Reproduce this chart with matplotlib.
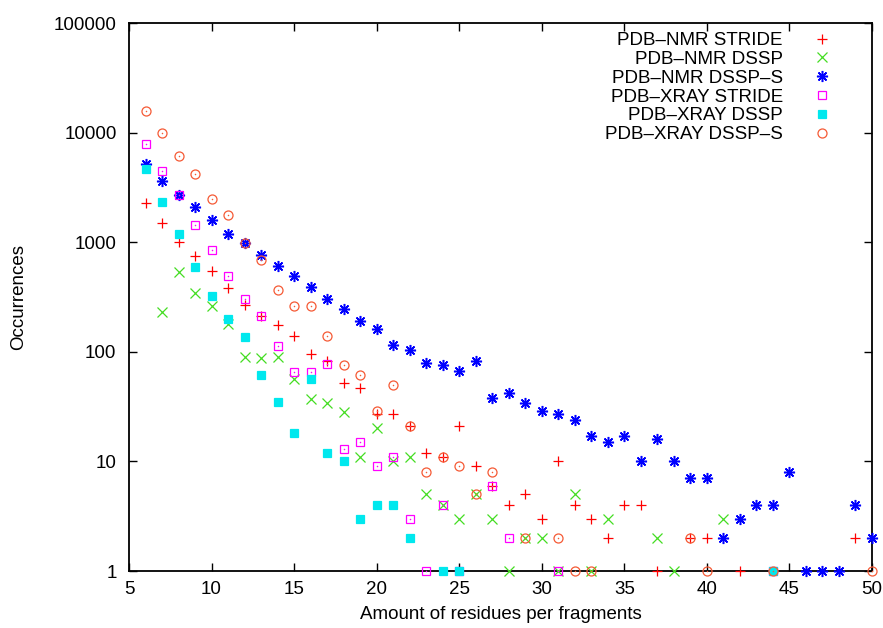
import matplotlib
matplotlib.use("Agg")
import matplotlib.pyplot as plt
from matplotlib.ticker import FixedLocator, FuncFormatter, NullLocator

plt.rcParams['font.family'] = ['Liberation Sans', 'DejaVu Sans']

# Fragment-length distributions (occurrences per fragment length)
series_labels = ["PDB–NMR STRIDE", "PDB–NMR DSSP", "PDB–NMR DSSP–S",
                 "PDB–XRAY STRIDE", "PDB–XRAY DSSP", "PDB–XRAY DSSP–S"]

nmr_stride_x = [6, 7, 8, 9, 10, 11, 12, 13, 14, 15, 16, 17, 18, 19, 20, 21, 22, 23,
                24, 25, 26, 27, 28, 29, 30, 31, 32, 33, 34, 35, 36, 37, 39, 40, 42, 49]
nmr_stride_y = [2300, 1500, 1000, 750, 550, 380, 270, 210, 175, 140, 95, 82, 52, 47, 27, 27,
                21, 12, 11, 21, 9, 6, 4, 5, 3, 10, 4, 3, 2, 4, 4, 1, 2, 2, 1, 2]

nmr_dssp_x = [7, 8, 9, 10, 11, 12, 13, 14, 15, 16, 17, 18, 19, 20, 21, 22, 23, 24, 25,
              26, 27, 28, 29, 30, 31, 32, 33, 34, 37, 38, 41]
nmr_dssp_y = [230, 540, 345, 260, 180, 90, 87, 90, 57, 37, 34, 28, 11, 20, 10, 11, 5, 4, 3,
              5, 3, 1, 2, 2, 1, 5, 1, 3, 2, 1, 3]

nmr_dssps_x = list(range(6, 51))
nmr_dssps_y = [5200, 3600, 2700, 2100, 1600, 1200, 980, 760, 610, 490,
               390, 305, 245, 189, 161, 116, 104, 79, 76, 67,
               83, 38, 42, 34, 29, 27, 24, 17, 15, 17,
               10, 16, 10, 7, 7, 2, 3, 4, 4, 8,
               1, 1, 1, 4, 2]

xray_stride_x = [6, 7, 8, 9, 10, 11, 12, 13, 14, 15, 16, 17, 18, 19, 20, 21, 22, 23, 24, 25,
                 27, 28, 31, 44]
xray_stride_y = [7800, 4500, 2700, 1450, 850, 490, 305, 213, 113, 65, 65, 77, 13, 15, 9, 11,
                 3, 1, 4, 1, 6, 2, 1, 1]

xray_dssp_x = [6, 7, 8, 9, 10, 11, 12, 13, 14, 15, 16, 17, 18, 19, 20, 21, 22, 24, 25, 44]
xray_dssp_y = [4700, 2350, 1200, 590, 320, 200, 137, 61, 35, 18, 57, 12, 10, 3, 4, 4, 2,
               1, 1, 1]

xray_dssps_x = [6, 7, 8, 9, 10, 11, 12, 13, 14, 15, 16, 17, 18, 19, 20, 21, 22, 23, 24, 25,
                26, 27, 29, 31, 32, 33, 39, 40, 44, 50]
xray_dssps_y = [15800, 9900, 6100, 4200, 2500, 1780, 980, 690, 368, 263, 263, 138, 75, 62,
                29, 50, 21, 8, 11, 9, 5, 8, 2, 2, 1, 1, 2, 1, 1, 1]

x_ticks = [5, 10, 15, 20, 25, 30, 35, 40, 45, 50]
y_ticks = [1, 10, 100, 1000, 10000, 100000]

W, H, DPI = 883, 628, 100
fig = plt.figure(figsize=(W / DPI, H / DPI), dpi=DPI)
ax = fig.add_axes([129 / W, 1 - 571 / H, (872 - 129) / W, (571 - 23) / H])

styles = [
    dict(marker='+', color='#ff0000', ms=7.5, mew=0.9, mfc='none', dot=False),
    dict(marker='x', color='#44dd22', ms=6.5, mew=0.9, mfc='none', dot=False),
    dict(marker=(8, 2, 0), color='#0000ff', ms=8.0, mew=1.1, mfc='none', dot=False),
    dict(marker='s', color='#ff00ff', ms=6.0, mew=0.9, mfc='none', dot=True),
    dict(marker='s', color='#00e8ee', ms=5.2, mew=0.9, mfc='#00e8ee', dot=False),
    dict(marker='o', color='#f55a35', ms=6.5, mew=0.9, mfc='none', dot=True),
]
data = [(nmr_stride_x, nmr_stride_y), (nmr_dssp_x, nmr_dssp_y), (nmr_dssps_x, nmr_dssps_y),
        (xray_stride_x, xray_stride_y), (xray_dssp_x, xray_dssp_y),
        (xray_dssps_x, xray_dssps_y)]

handles = []
for (xs, ys), st, lab in zip(data, styles, series_labels):
    h, = ax.plot(xs, ys, linestyle='none', marker=st['marker'], color=st['color'],
                 markersize=st['ms'], markeredgewidth=st['mew'],
                 markerfacecolor=st['mfc'], clip_on=False, label=lab, zorder=3)
    if st['dot']:
        ax.plot(xs, ys, linestyle='none', marker='o', markersize=1.1, color=st['color'],
                markeredgewidth=0, clip_on=False, zorder=3)
    handles.append(h)

ax.set_xscale('linear')
ax.set_yscale('log')
ax.set_xlim(5, 50)
ax.set_ylim(1, 100000)
ax.xaxis.set_major_locator(FixedLocator(x_ticks))
ax.yaxis.set_major_locator(FixedLocator(y_ticks))
ax.yaxis.set_minor_locator(NullLocator())
ax.yaxis.set_major_formatter(FuncFormatter(lambda v, p: f"{int(round(v))}"))
ax.xaxis.set_major_formatter(FuncFormatter(lambda v, p: f"{int(round(v))}"))

ax.tick_params(axis='both', which='major', direction='in', length=6, width=1.0,
               top=True, right=True, labelsize=13.5, colors='black')
ax.tick_params(axis='x', pad=7)
ax.tick_params(axis='y', pad=9)
for sp in ax.spines.values():
    sp.set_linewidth(1.3)

ax.set_xlabel("Amount of residues per fragments", fontsize=13.5)
ax.set_ylabel("Occurrences", fontsize=13.5)
ax.xaxis.set_label_coords(0.5, (571 - 606) / 548)
ax.yaxis.set_label_coords((27 - 129) / 743, 0.5)

leg = ax.legend(handles=handles, loc='upper right', markerfirst=False, frameon=False,
                fontsize=13.5, handlelength=2.0, handletextpad=1.1, labelspacing=0.09,
                borderpad=0, borderaxespad=0,
                bbox_to_anchor=(841 / W, 1 - 32 / H), bbox_transform=fig.transFigure)
for col in leg._legend_handle_box.get_children():
    col.align = 'right'

fig.savefig("out.png", dpi=DPI)
